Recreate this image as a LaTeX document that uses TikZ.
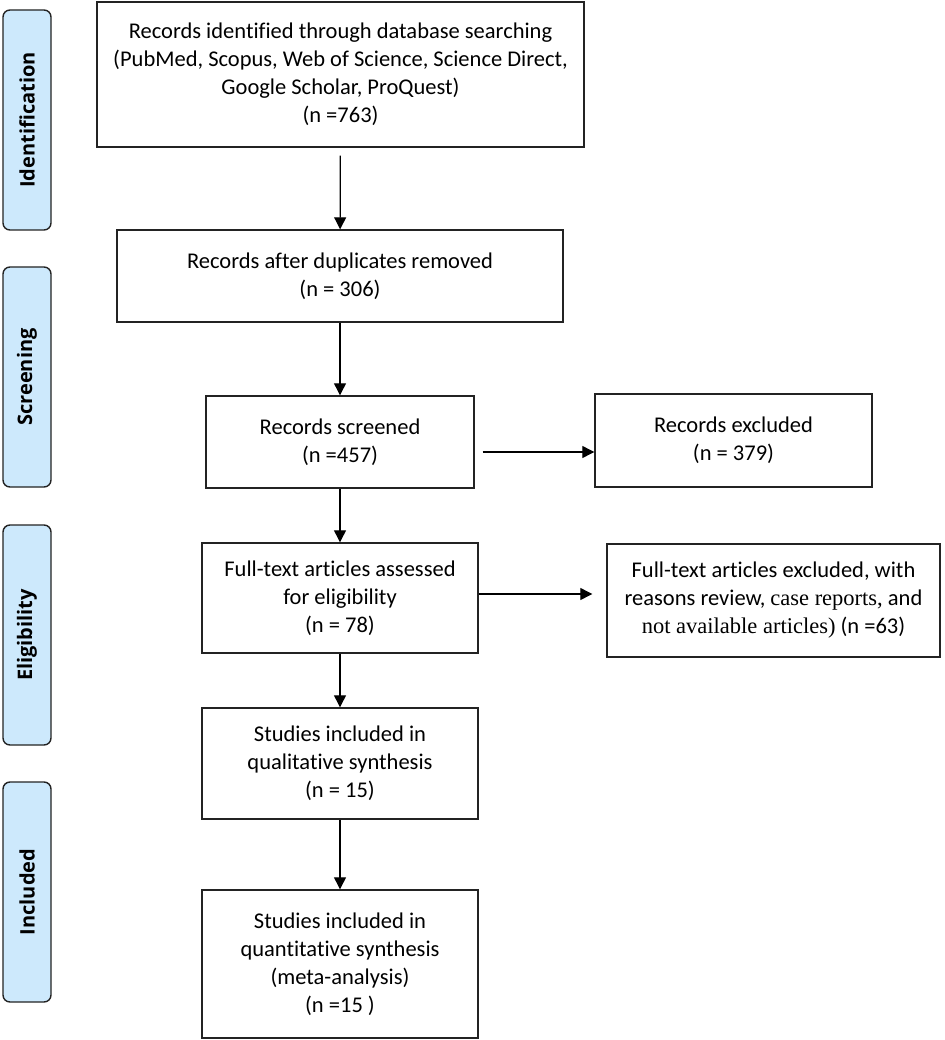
\documentclass[tikz,border=0pt]{standalone}
\usepackage{fontspec}
\setmainfont{Carlito}[Ligatures=NoCommon]
\newfontfamily\sidefont{Open Sans}
\newfontfamily\serifpart{Liberation Serif}
\usetikzlibrary{arrows.meta,calc}
\definecolor{sideblue}{RGB}{205,233,252}
\definecolor{lineclr}{RGB}{35,35,35}
\tikzset{
  mainbox/.style={draw=lineclr, line width=1.4pt, align=center, inner sep=0pt,
    font=\fontsize{22.5}{28}\selectfont},
  sidebox/.style={draw=lineclr, fill=sideblue, line width=1.4pt, rounded corners=7pt,
    minimum width=220pt, minimum height=48pt, rotate=90, inner sep=0pt,
    font=\sidefont\bfseries\fontsize{20}{22}\selectfont},
  flow/.style={draw=black, line width=1.2pt, -{Triangle[length=12pt,width=12pt]}}
}
\begin{document}
\begin{tikzpicture}[x=1pt,y=-1pt]
\useasboundingbox (0,0) rectangle (944,1040);
% side labels
\node[sidebox] (sid) at (27,120) {Identification};
\node[sidebox] (sscr) at (27,377) {Screening};
\node[sidebox] (selig) at (27,635) {Eligibility};
\node[sidebox] (sinc) at (27,892) {Included};
% main boxes
\node[mainbox, minimum width=487pt, minimum height=145pt] (id) at (340.5,74.5)
  {Records identified through database searching\\(PubMed, Scopus, Web of Science, Science Direct,\\Google Scholar, ProQuest)\\(n =763)};
\node[mainbox, minimum width=446pt, minimum height=92pt] (dup) at (340,276)
  {Records after duplicates removed\\(n = 306)};
\node[mainbox, minimum width=268pt, minimum height=92pt] (scr) at (340,442)
  {Records screened\\(n =457)};
\node[mainbox, minimum width=277pt, minimum height=93pt] (exc1) at (733.5,440.5)
  {Records excluded\\(n = 379)};
\node[mainbox, minimum width=276pt, minimum height=110pt] (ft) at (340,598)
  {Full-text articles assessed\\for eligibility\\(n = 78)};
\node[mainbox, minimum width=333pt, minimum height=113pt] (exc2) at (773.5,600.5)
  {Full-text articles excluded, with\\reasons review, {\serifpart case reports,} and\\{\serifpart not available articles)} (n =63)};
\node[mainbox, minimum width=276pt, minimum height=111pt] (inc1) at (340,763.5)
  {Studies included in\\qualitative synthesis\\(n = 15)};
\node[mainbox, minimum width=276pt, minimum height=148pt] (inc2) at (340,964)
  {Studies included in\\quantitative synthesis\\(meta-analysis)\\(n =15 )};
% connectors
\draw[flow, shorten <=8pt] (id) -- (dup);
\draw[flow] (dup) -- (scr);
\draw[flow] (scr) -- (ft);
\draw[flow] (ft) -- (inc1);
\draw[flow] (inc1) -- (inc2);
\draw[flow, shorten <=8pt] ([yshift=-10pt]scr.east) -- ([yshift=-10pt]scr.east -| exc1.west);
\draw[flow, shorten >=14pt] ([yshift=4pt]ft.east) -- ([yshift=4pt]ft.east -| exc2.west);
\end{tikzpicture}
\end{document}
